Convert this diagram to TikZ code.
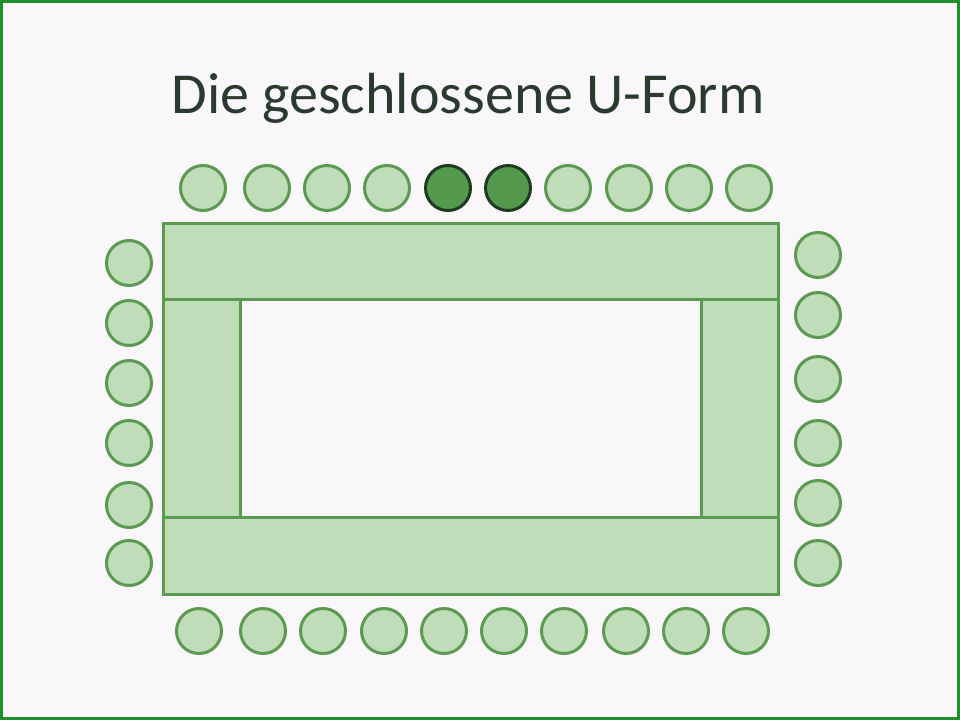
\documentclass[tikz,border=0pt]{standalone}
\usepackage{fontspec}
\setmainfont{Carlito}
\definecolor{bgc}{HTML}{FAF7FB}
\definecolor{framec}{HTML}{1F8F30}
\definecolor{tablefill}{HTML}{C0DDB9}
\definecolor{tableline}{HTML}{5C9A52}
\definecolor{darkfill}{HTML}{559A4C}
\definecolor{darkline}{HTML}{1F3A20}
\definecolor{titlec}{HTML}{2B3A2E}
\begin{document}
\begin{tikzpicture}[x=1pt,y=-1pt,
  tablebox/.style={draw=tableline,fill=tablefill,line width=3pt},
  seat/.style={circle,draw=tableline,fill=tablefill,line width=3pt,minimum size=45pt,inner sep=0pt},
  darkseat/.style={seat,draw=darkline,fill=darkfill}]
\useasboundingbox (0,0) rectangle (960,720);
\fill[bgc] (0,0) rectangle (960,720);
\draw[framec,line width=3pt] (1.5,1.5) rectangle (958.5,718.5);
\node[text=titlec,font=\fontsize{58}{64}\selectfont,anchor=base] (title) at (468,113) {Die geschlossene U-Form};
% tables
\draw[tablebox] (163,223) rectangle (778,299);
\draw[tablebox] (163,517) rectangle (778,594);
\draw[tablebox] (163,299) rectangle (240,517);
\draw[tablebox] (701,299) rectangle (778,517);
% top seats
\foreach \x [count=\i] in {203,267,327,387,448,508,568,629,689,749}{
  \ifnum\i=5 \node[darkseat] (t\i) at (\x,188) {};
  \else\ifnum\i=6 \node[darkseat] (t\i) at (\x,188) {};
  \else \node[seat] (t\i) at (\x,188) {};\fi\fi
}
% bottom seats
\foreach \x [count=\i] in {199,263,323,384,444,504,564,626,686,746}{
  \node[seat] (b\i) at (\x,631) {};
}
% left seats
\foreach \y [count=\i] in {263,323,383,443,505,563}{
  \node[seat] (l\i) at (129,\y) {};
}
% right seats
\foreach \y [count=\i] in {255,315,379,443,503,563}{
  \node[seat] (r\i) at (818,\y) {};
}
\end{tikzpicture}
\end{document}
